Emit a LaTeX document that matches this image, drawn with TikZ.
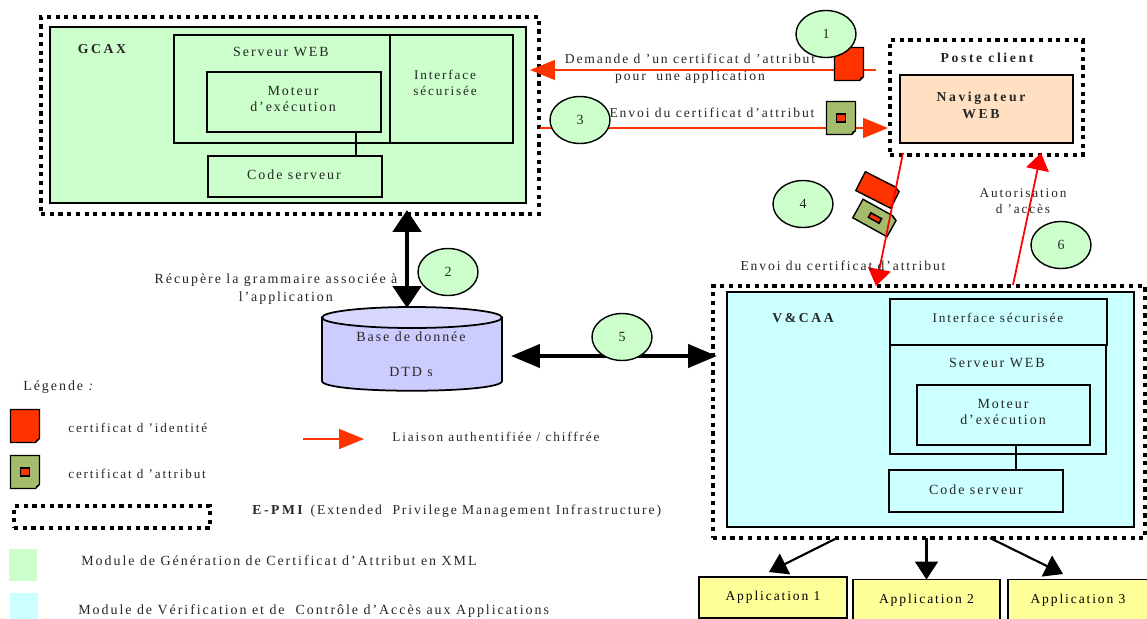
\documentclass[tikz,border=0pt]{standalone}
\usepackage{fontspec}
\setmainfont[LetterSpace=14,BoldFeatures={LetterSpace=19}]{Liberation Serif}
\usetikzlibrary{arrows.meta,shapes.geometric}
\definecolor{gcaxgreen}{HTML}{CCFFCC}
\definecolor{vcaacyan}{HTML}{CCFFFF}
\definecolor{navpeach}{HTML}{FFE0C2}
\definecolor{basemauve}{HTML}{CCCCFF}
\definecolor{basetop}{HTML}{D8D8FF}
\definecolor{appyellow}{HTML}{FFFF99}
\definecolor{certred}{HTML}{FF3300}
\definecolor{certgreen}{HTML}{A4BC6C}
\tikzset{
    txt/.style={inner sep=0pt,align=center,font=\fontsize{7.95}{9}\selectfont,text=black!85},
    smalltxt/.style={txt,font=\fontsize{7.55}{9}\selectfont},
    sendstyle/.style={txt,font=\fontsize{7.75}{9}\selectfont},
    btxt/.style={txt,font=\fontsize{7.8}{10}\selectfont\bfseries},
    box/.style={draw,line width=1.1pt,inner sep=0pt,outer sep=0pt},
    pmi/.style={draw,line width=2.2pt,dash pattern=on 2.4pt off 2.55pt,inner sep=0pt,outer sep=0pt},
    bubble/.style={ellipse,draw,line width=.8pt,fill=gcaxgreen,inner sep=0pt,minimum width=1.2cm,minimum height=.94cm,txt},
    app/.style={box,fill=appyellow,minimum height=.82cm,font=\fontsize{7.7}{9}\selectfont},
    orangeline/.style={draw=certred,line width=.9pt,-{Triangle[length=.5cm,width=.4cm,fill=certred]}},
    redline/.style={draw=red,line width=1pt,-{Triangle[length=.34cm,width=.46cm,fill=red]}},
    tallline/.style={line width=2.8pt,{Triangle[length=.44cm,width=.56cm]}-{Triangle[length=.44cm,width=.56cm]}},
    wideline/.style={line width=2.4pt,{Triangle[length=.58cm,width=.46cm]}-{Triangle[length=.58cm,width=.46cm]}},
    appline/.style={line width=1.2pt,-{Triangle[length=.36cm,width=.46cm]}},
    certid/.pic={
        \draw[line width=.8pt,fill=certred] (-14.5,-16.5) -- (14.5,-16.5) -- (14.5,12.5) -- (10.5,16.5) -- (-14.5,16.5) -- cycle;
        \fill (10.5,16.5) -- (11.5,13.5) -- (14.5,12.5) -- cycle;
    },
    certattr/.pic={
        \draw[line width=.8pt,fill=certgreen] (-14.5,-16.5) -- (14.5,-16.5) -- (14.5,12.5) -- (10.5,16.5) -- (-14.5,16.5) -- cycle;
        \fill (10.5,16.5) -- (11.5,13.5) -- (14.5,12.5) -- cycle;
        \draw[line width=.9pt,fill=certred] (-4.5,-4) rectangle (4.5,4);
    }
}
\begin{document}
\begin{tikzpicture}[x=0.02cm,y=-0.02cm]
    \useasboundingbox (0,0) rectangle (1147,619);
    % GCAX
    \node[pmi,minimum width=9.96cm,minimum height=3.94cm] (gcaxpmi) at (290,115.5) {};
    \node[box,fill=gcaxgreen,minimum width=9.52cm,minimum height=3.52cm] (gcax) at (288,115) {};
    \node[btxt] (gcaxname) at (102,49) {GCAX};
    \node[box,minimum width=4.32cm,minimum height=2.16cm] (webA) at (282,89) {};
    \node[box,minimum width=2.46cm,minimum height=2.16cm] (ifaceA) at (451.5,89) {};
    \node[box,minimum width=3.48cm,minimum height=1.2cm] (motorA) at (294,102) {};
    \node[box,minimum width=3.48cm,minimum height=.82cm] (codeA) at (295,176.5) {};
    \node[txt] (webAtxt) at (281,52) {Serveur WEB};
    \node[smalltxt] (ifaceAtxt) at (445,83) {Interface\\sécurisée};
    \node[txt] (motorAtxt) at (293,99) {Moteur\\d’exécution};
    \node[txt] (codeAtxt) at (294,175) {Code serveur};
    \coordinate (joinA) at (356,132);
    \draw[line width=1.1pt] (joinA) -- (joinA |- codeA.north);
    % poste client
    \node[pmi,minimum width=3.86cm,minimum height=2.3cm] (clientpmi) at (986.5,97.5) {};
    \node[box,fill=navpeach,minimum width=3.46cm,minimum height=1.36cm] (nav) at (986.5,109) {};
    \node[btxt] (clienttxt) at (987,58) {Poste client};
    \node[btxt] (navtxt) at (981,105.5) {Navigateur\\WEB};
    % V&CAA
    \node[pmi,minimum width=8.64cm,minimum height=5.04cm] (vcaapmi) at (929,412) {};
    \node[box,fill=vcaacyan,minimum width=8.14cm,minimum height=4.7cm] (vcaa) at (930.5,409.5) {};
    \node[btxt] (vcaaname) at (803,318) {V\&CAA};
    \node[box,minimum width=4.34cm,minimum height=.92cm] (ifaceB) at (998.5,322) {};
    \node[box,minimum width=4.32cm,minimum height=2.18cm] (webB) at (998,399.5) {};
    \node[box,minimum width=3.46cm,minimum height=1.2cm] (motorB) at (1003.5,415) {};
    \node[box,minimum width=3.48cm,minimum height=.84cm] (codeB) at (976,491) {};
    \node[smalltxt] (ifaceBtxt) at (998,318) {Interface sécurisée};
    \node[txt] (webBtxt) at (997,363) {Serveur WEB};
    \node[txt] (motorBtxt) at (1003,412) {Moteur\\d’exécution};
    \node[txt] (codeBtxt) at (976,490) {Code serveur};
    \coordinate (joinB) at (1016,445);
    \draw[line width=1.1pt] (joinB) -- (joinB |- codeB.north);
    % applications
    \node[app,minimum width=2.96cm] (appA) at (773,597.5) {Application 1};
    \node[app,minimum width=2.94cm] (appB) at (926.5,600) {Application 2};
    \node[app,minimum width=2.8cm] (appC) at (1078,600) {Application 3};
    \coordinate (fromA) at (837,538);
    \coordinate (fromC) at (990,538);
    \coordinate (toA) at (769,572);
    \coordinate (toC) at (1063,574);
    \draw[appline] (fromA) -- (toA);
    \draw[appline] (vcaapmi.south -| appB.north) -- (appB.north);
    \draw[appline] (fromC) -- (toC);
    % base
    \draw[line width=1pt,fill=basemauve] (322,317.5) -- (322,381) .. controls (322,394) and (502,394) .. (502,381) -- (502,317.5) -- cycle;
    \draw[line width=1pt,fill=basetop] (412,317.5) ellipse [x radius=90,y radius=10.5];
    \node[txt,font=\fontsize{7.95}{20}\selectfont] (base) at (411,354.5) {Base de donnée\\DTD s};
    % liens
    \coordinate (topB) at (407,210);
    \coordinate (baseB) at (407,308);
    \coordinate (baseE) at (511,356);
    \coordinate (vcaaW) at (717,356);
    \draw[tallline] (topB) -- (baseB);
    \draw[wideline] (baseE) -- (vcaaW);
    \coordinate (reqS) at (876,70);
    \coordinate (reqE) at (530,70);
    \coordinate (sendS) at (540,128);
    \coordinate (sendE) at (888,128);
    \draw[orangeline] (reqS) -- (reqE);
    \draw[orangeline] (sendS) -- (sendE);
    \pic (certA) at (849,64) {certid};
    \pic (certB) at (841,118) {certattr};
    \pic[rotate=-27,xscale=1.35,yscale=-.64] (certC) at (878,190) {certid};
    \pic[rotate=-29,xscale=1.35,yscale=-.64] (certD) at (875,218) {certattr};
    \coordinate (navS) at (903,153);
    \coordinate (vcaaN) at (876,286);
    \coordinate (vcaaM) at (1013,285);
    \coordinate (navN) at (1041,153);
    \draw[redline] (navS) -- (vcaaN);
    \draw[redline] (vcaaM) -- (navN);
    % bulles
    \node[bubble] (one) at (826,34) {1};
    \node[bubble] (two) at (448,272) {2};
    \node[bubble] (three) at (580,120) {3};
    \node[bubble] (four) at (803,204) {4};
    \node[bubble] (five) at (622,337) {5};
    \node[bubble] (six) at (1061,245) {6};
    % textes
    \node[sendstyle] (reqtxt) at (690,68.5) {Demande d ’un certificat d ’attribut\\[1pt]pour\ \ une application};
    \node[sendstyle] (sendtxt) at (712,113) {Envoi du certificat d’attribut};
    \node[sendstyle] (send2txt) at (843,266) {Envoi du certificat d’attribut};
    \node[smalltxt] (authtxt) at (1023,201) {Autorisation\\d ’accès};
    \node[txt] (gramtxt) at (276,289) {Récupère la grammaire associée à\\[1pt]\hspace{1.4em}l’application};
    % legende
    \node[txt,anchor=west] (legtxt) at (23,387) {Légende \textit{:}};
    \pic (legid) at (25,426) {certid};
    \pic (legattr) at (25,472) {certattr};
    \node[smalltxt,font=\fontsize{7.5}{9}\selectfont,anchor=west] (legidtxt) at (68,428) {certificat d ’identité};
    \node[smalltxt,font=\fontsize{7.5}{9}\selectfont,anchor=west] (legattrtxt) at (68,474) {certificat d ’attribut};
    \coordinate (legS) at (303,439);
    \coordinate (legE) at (364,439);
    \draw[orangeline] (legS) -- (legE);
    \node[smalltxt,anchor=west] (legline) at (392,437) {Liaison authentifiée / chiffrée};
    \node[pmi,minimum width=3.92cm,minimum height=.44cm] (legpmi) at (112,517) {};
    \node[sendstyle,anchor=west] (legpmitxt) at (252,511) {\textbf{E-PMI} (Extended\ \ Privilege Management Infrastructure)};
    \node[fill=gcaxgreen,inner sep=0pt,minimum width=.56cm,minimum height=.64cm] (leggreen) at (23,565) {};
    \node[fill=vcaacyan,inner sep=0pt,minimum width=.56cm,minimum height=.6cm] (legcyan) at (24,608) {};
    \node[txt,anchor=west] (leggreentxt) at (81,561) {Module de Génération de Certificat d’Attribut en XML};
    \node[txt,anchor=west] (legcyantxt) at (78,611) {Module de Vérification et de\ \ Contrôle d’Accès aux Applications};
\end{tikzpicture}
\end{document}
